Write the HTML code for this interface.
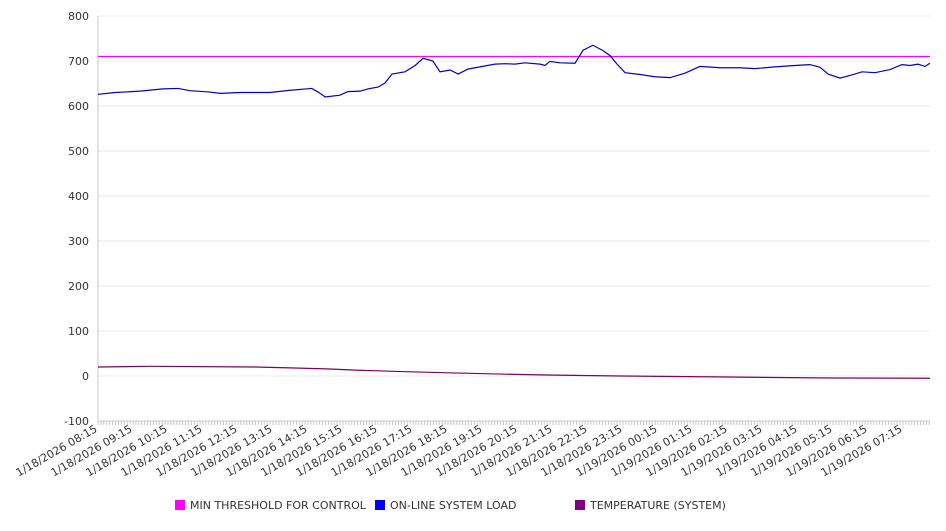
<!DOCTYPE html>
<html><head><meta charset="utf-8"><style>
html,body{margin:0;padding:0;background:#fff;}
svg text{font-family:"DejaVu Sans","Liberation Sans",sans-serif;font-size:11px;fill:#333;}
</style></head><body>
<svg id="chart" width="946" height="526" xmlns="http://www.w3.org/2000/svg">
<g id="grid"></g>
<g id="yaxis"></g>
<g id="xaxis"></g>
<g id="series"></g>
<g id="legend">
<rect x="175" y="500" width="10" height="10" fill="#ff00ff"/>
<text x="190" y="509">MIN THRESHOLD FOR CONTROL</text>
<rect x="375" y="500" width="10" height="10" fill="#0000ff"/>
<text x="390" y="509">ON-LINE SYSTEM LOAD</text>
<rect x="575" y="500" width="10" height="10" fill="#800080"/>
<text x="590" y="509">TEMPERATURE (SYSTEM)</text>
</g>
</svg>
<script>
const yTicks=[800,700,600,500,400,300,200,100,0,-100];
const xLabels=["1/18/2026 08:15","1/18/2026 09:15","1/18/2026 10:15","1/18/2026 11:15","1/18/2026 12:15","1/18/2026 13:15","1/18/2026 14:15","1/18/2026 15:15","1/18/2026 16:15","1/18/2026 17:15","1/18/2026 18:15","1/18/2026 19:15","1/18/2026 20:15","1/18/2026 21:15","1/18/2026 22:15","1/18/2026 23:15","1/19/2026 00:15","1/19/2026 01:15","1/19/2026 02:15","1/19/2026 03:15","1/19/2026 04:15","1/19/2026 05:15","1/19/2026 06:15","1/19/2026 07:15"];
const threshold=710;
const loadHours=[0,0.49,1.2,1.86,2.29,2.63,3.2,3.49,4.06,4.91,5.49,6.11,6.29,6.49,6.91,7.14,7.49,7.71,8,8.2,8.4,8.77,9.06,9.29,9.57,9.77,10.06,10.29,10.57,10.91,11.34,11.63,11.91,12.2,12.63,12.77,12.91,13.2,13.63,13.86,14.14,14.43,14.63,14.83,15.06,15.49,15.91,16.34,16.77,17.2,17.77,18.34,18.77,19.34,19.91,20.34,20.63,20.86,21.2,21.49,21.83,22.2,22.63,22.97,23.2,23.43,23.63,23.77];
const loadValues=[626,630,633,638,639,634,631,628,630,630,635,639,631,620,624,632,633,638,642,651,671,676,690,706,700,676,680,671,682,687,693,694,693,696,693,690,699,696,695,724,735,723,712,693,674,670,665,663,673,688,685,685,683,687,690,692,686,671,662,668,676,674,681,692,690,693,688,695];
const tempHours=[0,1.49,4.49,5.49,6.63,7.34,8.2,9.06,10.29,10.63,11.63,13.06,14.91,17.63,20.97,23.77];
const tempValues=[20,21.5,20,18,15.5,13,11,9,6.5,6,4,2,0,-2,-4.5,-5];
const X0=98,X1=930,PXH=35,Y0=16,Y1=421,YMAX=800,YMIN=-100;
const sx=h=>X0+h*PXH;
const sy=v=>Y0+(YMAX-v)/(YMAX-YMIN)*(Y1-Y0);
const NS="http://www.w3.org/2000/svg";
function mk(tag,attrs,parent){const e=document.createElementNS(NS,tag);for(const k in attrs)e.setAttribute(k,attrs[k]);parent.appendChild(e);return e;}
const grid=document.getElementById('grid'),ya=document.getElementById('yaxis'),xa=document.getElementById('xaxis'),se=document.getElementById('series');
yTicks.forEach(v=>{
  const l=mk('line',{x1:X0,x2:X1,y1:sy(v),y2:sy(v),stroke:'#ebebeb','stroke-width':1},grid);
  
  
  const t=mk('text',{x:89,y:sy(v)+4,'text-anchor':'end'},ya);
  
  
  t.textContent=v;
});
const ax=mk('line',{x1:X0,x2:X0,y1:Y0,y2:Y1,stroke:'#c8c8c8'},ya);


const bx=mk('line',{x1:X0,x2:X1,y1:Y1,y2:Y1,stroke:'#c8c8c8'},xa);


let d='';for(let m=0;sx(m/12)<=X1;m++){const x=sx(m/12);d+=`M${x},${Y1}v4`;}
const tk=mk('path',{d:d,stroke:'#c8c8c8','stroke-width':1},xa);


xLabels.forEach((s,i)=>{
  const x=sx(i);
  const t=mk('text',{x:x,y:Y1+10,'text-anchor':'end',transform:`rotate(-30 ${x} ${Y1+10})`},xa);
  
  
  t.textContent=s;
});
const th=mk('line',{x1:X0,x2:X1,y1:sy(threshold),y2:sy(threshold),stroke:'#ff00ff','stroke-width':1.2},se);


const lp=mk('polyline',{points:loadHours.map((h,i)=>sx(h)+','+sy(loadValues[i])).join(' '),fill:'none',stroke:'#0000cc','stroke-width':1.2},se);


const tp=mk('polyline',{points:tempHours.map((h,i)=>sx(h)+','+sy(tempValues[i])).join(' '),fill:'none',stroke:'#800060','stroke-width':1.2},se);


</script>
</body></html>
